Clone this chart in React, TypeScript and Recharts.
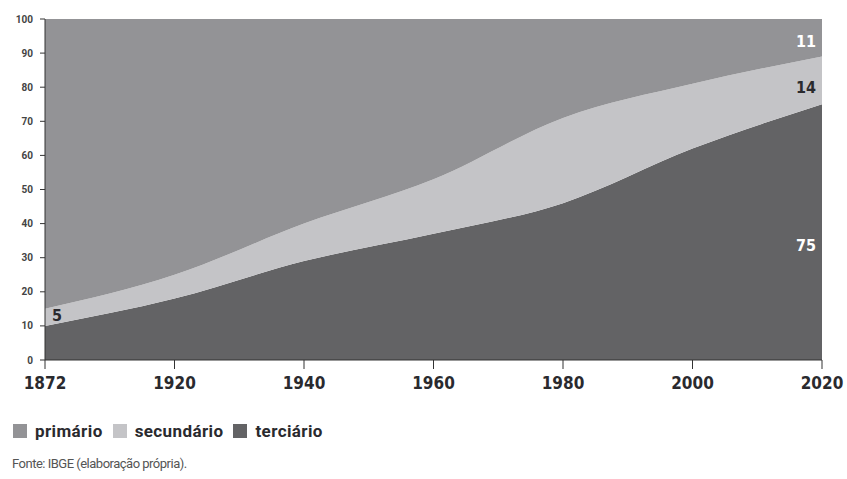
import React from 'react';
import { AreaChart, Area, XAxis, YAxis, ReferenceDot } from 'recharts';

const years = ['1872', '1920', '1940', '1960', '1980', '2000', '2020'];
const terciario = [10, 18, 29, 37, 46, 62, 75];
const secundario = [5, 7, 11, 16, 25, 19, 14];
const primario = [85, 75, 60, 47, 29, 19, 11];
const yTicks = [0, 10, 20, 30, 40, 50, 60, 70, 80, 90, 100];

const COLORS = { primario: '#939396', secundario: '#c4c4c7', terciario: '#636365' };

const data = years.map((year, i) => ({
  year,
  terciario: terciario[i],
  secundario: secundario[i],
  primario: primario[i],
}));

const last = years.length - 1;
const labelFont = { fontFamily: "'DejaVu Sans Condensed', Roboto, sans-serif", fontWeight: 700, fontSize: 16 };

const legendItems = [
  { key: 'primario', label: 'primário' },
  { key: 'secundario', label: 'secundário' },
  { key: 'terciario', label: 'terciário' },
];

const App: React.FC = () => {
  return (
    <div style={{ position: 'absolute', left: 0, top: 0, width: 847, height: 479, background: '#fff', fontFamily: 'Roboto, sans-serif' }}>
      <AreaChart width={847} height={400} data={data} margin={{ top: 19, right: 25, left: 0, bottom: 0 }}>
        <XAxis
          dataKey="year"
          height={40}
          tickSize={9}
          tickMargin={8}
          axisLine={{ stroke: '#333' }}
          tickLine={{ stroke: '#333' }}
          tick={{ fill: '#2a2a2e', fontSize: 17, fontWeight: 700, fontFamily: "'DejaVu Sans Condensed', Roboto, sans-serif" }}
          interval={0}
        />
        <YAxis
          domain={[0, 100]}
          ticks={yTicks}
          width={45}
          tickSize={5}
          tickMargin={7}
          axisLine={{ stroke: '#333' }}
          tickLine={{ stroke: '#333' }}
          tick={{ fill: '#444', fontSize: 10, fontWeight: 700 }}
          interval={0}
        />
        <Area type="monotone" dataKey="terciario" stackId="1" stroke="none" fill={COLORS.terciario} fillOpacity={1} isAnimationActive={false} />
        <Area type="monotone" dataKey="secundario" stackId="1" stroke="none" fill={COLORS.secundario} fillOpacity={1} isAnimationActive={false} />
        <Area type="monotone" dataKey="primario" stackId="1" stroke="none" fill={COLORS.primario} fillOpacity={1} isAnimationActive={false} />
        <ReferenceDot
          x={years[0]}
          y={terciario[0] + secundario[0] / 2 + 0.5}
          r={0}
          stroke="none"
          label={{ value: String(secundario[0]), position: 'right', offset: 7, fill: '#2a2a2e', ...labelFont }}
        />
        <ReferenceDot
          x={years[last]}
          y={100 - primario[last] / 2 - 1}
          r={0}
          stroke="none"
          label={{ value: String(primario[last]), position: 'left', offset: 6, fill: '#fff', ...labelFont }}
        />
        <ReferenceDot
          x={years[last]}
          y={terciario[last] + secundario[last] / 2 - 2}
          r={0}
          stroke="none"
          label={{ value: String(secundario[last]), position: 'left', offset: 6, fill: '#2a2a2e', ...labelFont }}
        />
        <ReferenceDot
          x={years[last]}
          y={terciario[last] / 2 - 4}
          r={0}
          stroke="none"
          label={{ value: String(terciario[last]), position: 'left', offset: 6, fill: '#fff', ...labelFont }}
        />
      </AreaChart>
      <div style={{ position: 'absolute', left: 13, top: 421, display: 'flex', alignItems: 'center', fontWeight: 700, fontSize: 17, letterSpacing: 0.4, color: '#2a2a2e' }}>
        {legendItems.map(item => (
          <div key={item.key} style={{ display: 'flex', alignItems: 'center', marginRight: 10 }}>
            <span style={{ display: 'inline-block', width: 14, height: 14, background: COLORS[item.key as keyof typeof COLORS], marginRight: 8 }} />
            <span>{item.label}</span>
          </div>
        ))}
      </div>
      <div style={{ position: 'absolute', left: 12, top: 456, fontSize: 13, letterSpacing: -0.5, color: '#555' }}>
        Fonte: IBGE (elaboração própria).
      </div>
    </div>
  );
};

export default App;
